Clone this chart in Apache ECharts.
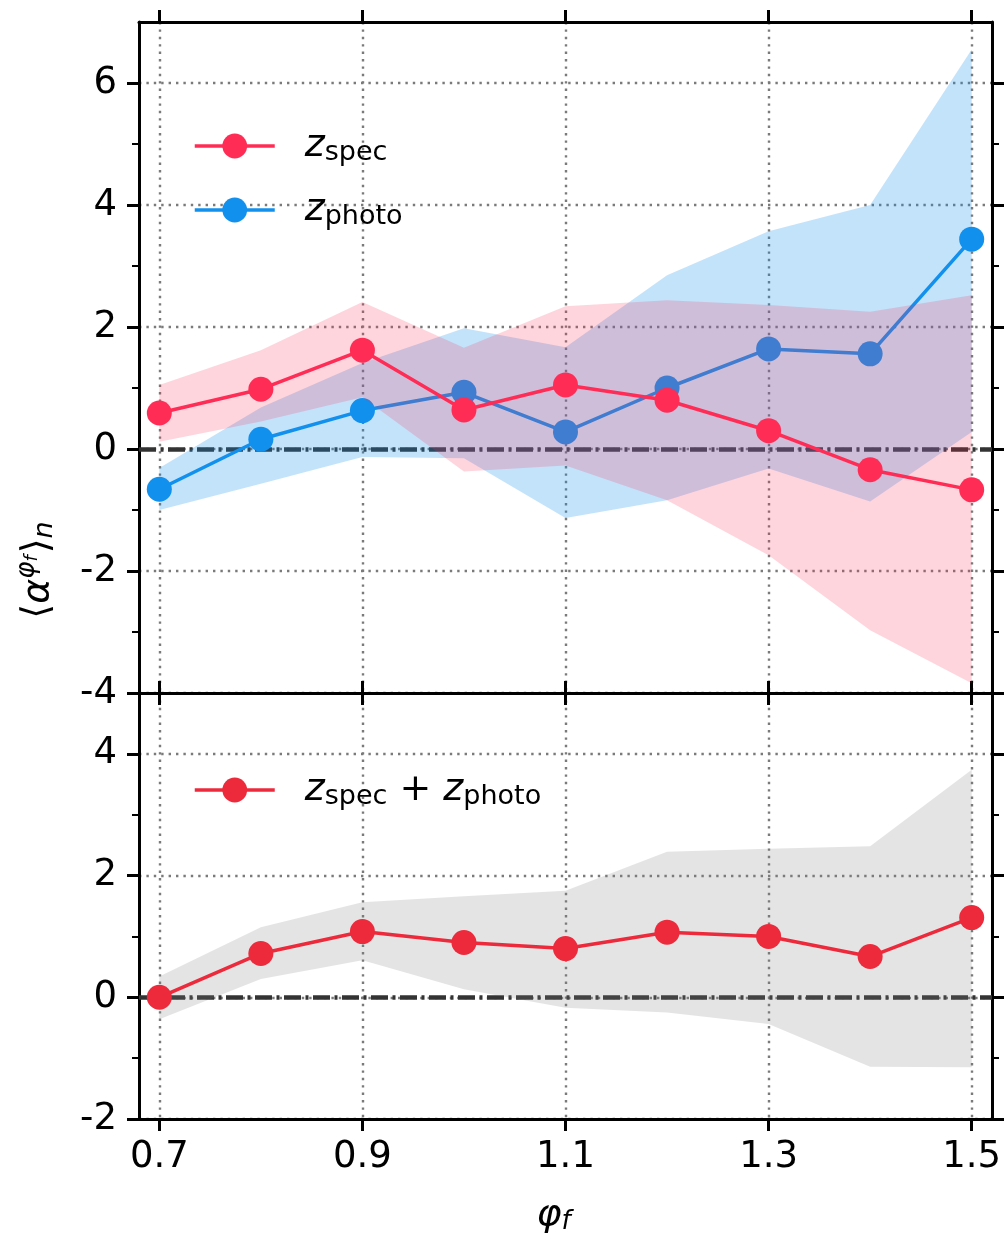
<!DOCTYPE html>
<html>
<head>
<meta charset="utf-8">
<script src="https://cdn.jsdelivr.net/npm/echarts@6/dist/echarts.min.js"></script>
<style>
  html, body { margin: 0; padding: 0; background: #fff; }
  #chart { width: 1005px; height: 1234px; }
</style>
</head>
<body>
<div id="chart"></div>
<script>
// phi_f grid on which the averages were computed
const phiF = [0.7, 0.8, 0.9, 1.0, 1.1, 1.2, 1.3, 1.4, 1.5];

// spectroscopic-redshift sample: mean and band
const specMean = [0.59, 0.98, 1.62, 0.64, 1.05, 0.80, 0.30, -0.34, -0.67];
const specLow  = [0.12, 0.45, 0.85, -0.37, -0.27, -0.84, -1.74, -2.97, -3.84];
const specHigh = [1.05, 1.62, 2.41, 1.66, 2.34, 2.44, 2.36, 2.25, 2.52];

// photometric-redshift sample: mean and band
const photoMean = [-0.66, 0.16, 0.63, 0.93, 0.28, 1.00, 1.64, 1.56, 3.44];
const photoLow  = [-1.00, -0.57, -0.13, -0.15, -1.13, -0.84, -0.32, -0.86, 0.28];
const photoHigh = [-0.31, 0.68, 1.41, 1.98, 1.67, 2.85, 3.57, 4.00, 6.55];

// combined sample: mean and band
const combMean = [0.00, 0.72, 1.08, 0.90, 0.80, 1.07, 1.00, 0.67, 1.31];
const combLow  = [-0.36, 0.30, 0.61, 0.13, -0.17, -0.25, -0.44, -1.14, -1.15];
const combHigh = [0.34, 1.15, 1.56, 1.66, 1.75, 2.39, 2.44, 2.48, 3.74];

// ticks
const xTicks = [0.7, 0.9, 1.1, 1.3, 1.5];
const yTopMajor = [-4, -2, 0, 2, 4, 6];
const yTopMinor = [-3, -1, 1, 3, 5];
const yBotMajor = [-2, 0, 2, 4];
const yBotMinor = [-1, 1, 3];
const xRange = [0.68, 1.52];
const yTopRange = [-4, 7];
const yBotRange = [-2, 5];

const FONT = 'DejaVu Sans';
const RED = '#ff2d55';
const BLUE = '#1190ee';
const RED2 = '#ec2a3b';

const pairs = (xs, ys) => xs.map((x, i) => [x, ys[i]]);

const gridDots = { show: true, lineStyle: { color: '#7a7a7a', width: 2.4, type: [2.4, 5] } };
const spine = { show: true, onZero: false, lineStyle: { color: '#000', width: 3 } };

function xAxisDef(gridIndex, position, withLabels, withSplit) {
  return {
    type: 'value', gridIndex, position,
    min: xRange[0], max: xRange[1],
    axisLine: spine,
    axisTick: { show: true, inside: false, length: 12, customValues: xTicks, lineStyle: { color: '#000', width: 3 } },
    axisLabel: withLabels ? {
      show: true, customValues: xTicks, margin: 20,
      formatter: v => v.toFixed(1),
      fontFamily: FONT, fontSize: 37, color: '#000'
    } : { show: false },
    splitLine: withSplit ? gridDots : { show: false },
    name: withLabels ? '{p|φ}{f|f}' : '',
    nameLocation: 'middle', nameGap: 76,
    nameTextStyle: {
      padding: [0, 24, 0, 0],
      rich: {
        p: { fontFamily: FONT, fontSize: 38, fontStyle: 'italic', color: '#000' },
        f: { fontFamily: FONT, fontSize: 26, fontStyle: 'italic', color: '#000', padding: [14, 0, 0, 0] }
      }
    }
  };
}

function yAxisDef(gridIndex, position, range, ticks, len, withLabels, withSplit, withLine) {
  return {
    type: 'value', gridIndex, position,
    min: range[0], max: range[1],
    axisLine: withLine ? spine : { show: false },
    axisTick: { show: true, inside: false, length: len, customValues: ticks, lineStyle: { color: '#000', width: len > 8 ? 3 : 2 } },
    axisLabel: withLabels ? {
      show: true, customValues: ticks, margin: 22,
      formatter: v => String(v),
      fontFamily: FONT, fontSize: 37, color: '#000'
    } : { show: false },
    splitLine: withSplit ? gridDots : { show: false }
  };
}

// zero reference line, kept underneath the bands
const zeroLine = {
  silent: true, symbol: 'none', z: 1, label: { show: false },
  lineStyle: { color: '#333', width: 4.5, type: [17, 4.5, 3, 4.5] },
  emphasis: { disabled: true },
  data: [{ yAxis: 0 }]
};

// shaded band between lo and hi, one polygon through the axis scales
function band(name, lo, hi, color, xi, yi, z) {
  return {
    name, type: 'custom', xAxisIndex: xi, yAxisIndex: yi, z, silent: true,
    data: phiF.map((x, i) => [x, lo[i], hi[i]]),
    encode: { x: 0, y: [1, 2] },
    renderItem: (params, api) => {
      if (params.dataIndex !== 0) return null;
      const upper = phiF.map((x, i) => api.coord([x, hi[i]]));
      const lower = phiF.map((x, i) => api.coord([x, lo[i]])).reverse();
      return {
        type: 'polygon',
        shape: { points: upper.concat(lower) },
        style: { fill: color, stroke: null }
      };
    }
  };
}

function meanLine(name, ys, color, xi, yi, z, withZero) {
  const s = {
    name, type: 'line', xAxisIndex: xi, yAxisIndex: yi, z,
    data: pairs(phiF, ys),
    symbol: 'circle', symbolSize: 25, showSymbol: true,
    lineStyle: { color, width: 3.5 },
    itemStyle: { color },
    emphasis: { disabled: true }
  };
  if (withZero) s.markLine = zeroLine;
  return s;
}

const legendRich = {
  g: { width: 25 },
  z: { fontFamily: FONT, fontSize: 38, fontStyle: 'italic', color: '#000' },
  s: { fontFamily: FONT, fontSize: 27, color: '#000', padding: [13, 0, 0, 0] },
  o: { fontFamily: FONT, fontSize: 38, color: '#000' }
};
const legendText = {
  zspec: '{g|}{z|z}{s|spec}',
  zphoto: '{g|}{z|z}{s|photo}',
  zcomb: '{g|}{z|z}{s|spec}{o| + }{z|z}{s|photo}'
};
function legendDef(name, top) {
  return {
    data: [name], left: 188, top, orient: 'vertical',
    itemWidth: 80, itemHeight: 31, selectedMode: false,
    lineStyle: { width: 3.5 },
    formatter: n => legendText[n],
    textStyle: { rich: legendRich }
  };
}

const series = [
  band('photoBand', photoLow, photoHigh, 'rgba(17,144,238,0.25)', 0, 0, 2),
  meanLine('zphoto', photoMean, BLUE, 0, 0, 3, true),
  band('specBand', specLow, specHigh, 'rgba(255,45,85,0.2)', 0, 0, 4),
  meanLine('zspec', specMean, RED, 0, 0, 5, false),
  band('combBand', combLow, combHigh, 'rgba(128,128,128,0.21)', 2, 4, 2),
  meanLine('zcomb', combMean, RED2, 2, 4, 5, true)
];

const chart = echarts.init(document.getElementById('chart'), null, { renderer: 'canvas' });
chart.setOption({
  animation: false,
  backgroundColor: '#fff',
  grid: [
    { left: 139, top: 22, width: 853, height: 671, containLabel: false, outerBoundsMode: 'none' },
    { left: 139, top: 693, width: 853, height: 426, containLabel: false, outerBoundsMode: 'none' }
  ],
  xAxis: [
    xAxisDef(0, 'bottom', false, true),
    xAxisDef(0, 'top', false, false),
    xAxisDef(1, 'bottom', true, true),
    xAxisDef(1, 'top', false, false)
  ],
  yAxis: [
    yAxisDef(0, 'left', yTopRange, yTopMajor, 12, true, true, true),
    yAxisDef(0, 'right', yTopRange, yTopMajor, 12, false, false, true),
    yAxisDef(0, 'left', yTopRange, yTopMinor, 7, false, false, false),
    yAxisDef(0, 'right', yTopRange, yTopMinor, 7, false, false, false),
    yAxisDef(1, 'left', yBotRange, yBotMajor, 12, true, true, true),
    yAxisDef(1, 'right', yBotRange, yBotMajor, 12, false, false, true),
    yAxisDef(1, 'left', yBotRange, yBotMinor, 7, false, false, false),
    yAxisDef(1, 'right', yBotRange, yBotMinor, 7, false, false, false)
  ],
  legend: [
    legendDef('zspec', 122),
    legendDef('zphoto', 186),
    legendDef('zcomb', 766)
  ],
  graphic: [{
    type: 'text', x: 38, y: 570, rotation: Math.PI / 2, silent: true,
    style: {
      text: '{a|⟨}{al|α}{sp|φ}{ss|f}{a|⟩}{sb|n}',
      align: 'center', verticalAlign: 'middle',
      rich: {
        a: { fontFamily: FONT, fontSize: 38, fill: '#000' },
        al: { fontFamily: FONT, fontSize: 38, fontStyle: 'italic', fill: '#000' },
        sp: { fontFamily: FONT, fontSize: 26, fontStyle: 'italic', fill: '#000', padding: [0, 0, 22, 0] },
        ss: { fontFamily: FONT, fontSize: 18, fontStyle: 'italic', fill: '#000', padding: [0, 2, 12, 0] },
        sb: { fontFamily: FONT, fontSize: 27, fontStyle: 'italic', fill: '#000', padding: [14, 0, 0, 0] }
      }
    }
  }],
  series
});
</script>
</body>
</html>
